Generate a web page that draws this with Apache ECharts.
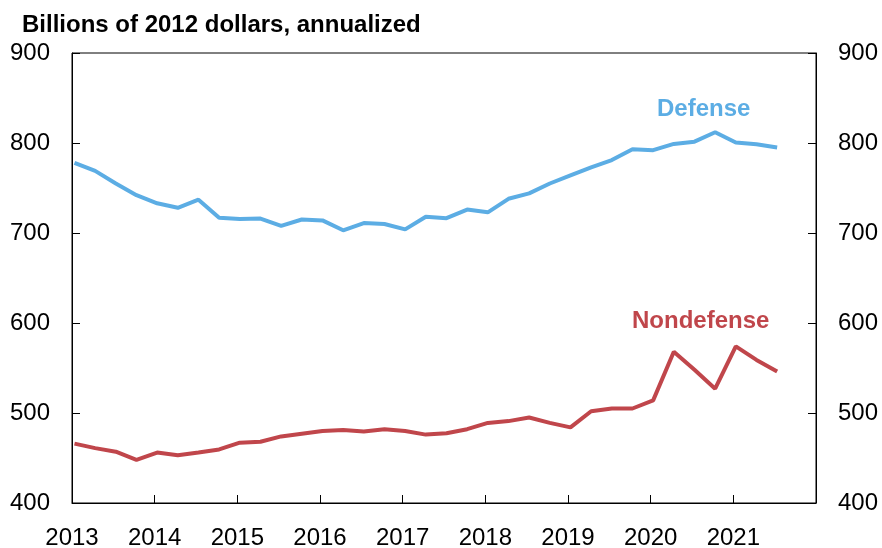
<!DOCTYPE html>
<html>
<head>
<meta charset="utf-8">
<script src="https://cdn.jsdelivr.net/npm/echarts@6/dist/echarts.min.js"></script>
<style>html,body{margin:0;padding:0;background:#fff}#c{width:882px;height:548px}</style>
</head>
<body>
<div id="c"></div>
<script>
const titleText = 'Billions of 2012 dollars, annualized';
const startYear = 2013;
const yearTicks = [2013, 2014, 2015, 2016, 2017, 2018, 2019, 2020, 2021];
const yTicks = [400, 500, 600, 700, 800, 900];
const defense = [778, 769, 755, 742, 733, 728, 737, 717, 715.5, 716,
  708, 715, 714, 703, 711, 710, 704, 718, 716.5, 726,
  723, 738, 744, 755, 764, 773, 781, 793, 792, 799,
  801.5, 812, 800.5, 798.5, 795];
const nondefense = [466, 461, 457, 448, 456, 453, 456, 459.5, 467, 468,
  474, 477, 480, 481, 479.5, 482, 480, 476, 477.5, 482,
  489, 491, 495, 489, 484, 502, 505, 505, 514, 568,
  548, 527, 574, 559, 546];

const BLUE = '#5cade4';
const RED = '#c0464b';
const FONT = '"Liberation Sans", Arial, Helvetica, sans-serif';

function quarterX(i) { return startYear + i * 0.25 + 0.03; }
const defData = defense.map((v, i) => [quarterX(i), v]);
const nonData = nondefense.map((v, i) => [quarterX(i), v]);

const chart = echarts.init(document.getElementById('c'), null, {renderer: 'canvas'});
const yAxisCommon = {
  type: 'value', min: 400, max: 900, interval: 100,
  axisLine: {show: true, lineStyle: {color: '#000', width: 1}},
  axisTick: {show: true, inside: true, length: 8, lineStyle: {color: '#000'}},
  splitLine: {show: false},
  axisLabel: {color: '#000', fontSize: 24, fontFamily: FONT, margin: 22}
};
chart.setOption({
  animation: false,
  backgroundColor: '#fff',
  title: {
    text: titleText, left: 17, top: 8,
    textStyle: {fontFamily: FONT, fontWeight: 'bold', fontSize: 24, color: '#000'}
  },
  grid: {left: 72, right: 66, top: 53, bottom: 45, show: true, borderColor: '#000', borderWidth: 1, containLabel: false, outerBoundsMode: 'none'},
  xAxis: {
    type: 'value', min: 2013, max: 2022, interval: 1,
    axisLine: {show: true, lineStyle: {color: '#000', width: 1}},
    axisTick: {show: true, inside: true, length: 8, lineStyle: {color: '#000'}},
    splitLine: {show: false},
    axisLabel: {
      color: '#000', fontSize: 24, fontFamily: FONT, margin: 23,
      formatter: v => yearTicks.indexOf(v) >= 0 ? String(v) : ''
    }
  },
  yAxis: [
    Object.assign({}, yAxisCommon, {position: 'left'}),
    Object.assign({}, yAxisCommon, {position: 'right'})
  ],
  series: [
    {name: 'Defense', type: 'line', data: defData, symbol: 'none', lineStyle: {color: BLUE, width: 4}, color: BLUE, clip: true},
    {name: 'Nondefense', type: 'line', data: nonData, symbol: 'none', lineStyle: {color: RED, width: 4}, color: RED, clip: true}
  ],
  graphic: [
    {type: 'text', x: 657, y: 109, style: {text: 'Defense', fill: BLUE, font: 'bold 24px ' + FONT, align: 'left', verticalAlign: 'middle', textAlign: 'left', textVerticalAlign: 'middle'}},
    {type: 'text', x: 632, y: 321, style: {text: 'Nondefense', fill: RED, font: 'bold 24px ' + FONT, align: 'left', verticalAlign: 'middle', textAlign: 'left', textVerticalAlign: 'middle'}}
  ]
});
</script>
</body>
</html>
